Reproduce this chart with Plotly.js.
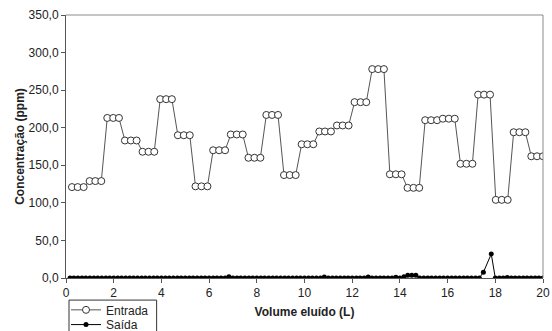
<!DOCTYPE html>
<html>
<head>
<meta charset="utf-8">
<script src="https://cdn.plot.ly/plotly-3.0.1.min.js"></script>
<style>html,body{margin:0;padding:0;background:#fff;}#chart{width:552px;height:331px;}</style>
</head>
<body>
<div id="chart"></div>
<script>
// Entrada (inlet) – 27 fractions of 3 points each
var entradaX = [0.25,0.49,0.74,0.99,1.23,1.48,1.73,1.98,2.22,2.47,2.72,2.96,3.21,3.46,3.70,3.95,4.20,4.44,4.69,4.94,5.19,5.43,5.68,5.93,6.17,6.42,6.67,6.91,7.16,7.41,7.65,7.90,8.15,8.40,8.64,8.89,9.14,9.38,9.63,9.88,10.12,10.37,10.62,10.86,11.11,11.36,11.60,11.85,12.10,12.35,12.59,12.84,13.09,13.33,13.58,13.83,14.07,14.32,14.57,14.81,15.06,15.31,15.56,15.80,16.05,16.30,16.54,16.79,17.04,17.28,17.53,17.78,18.02,18.27,18.52,18.77,19.01,19.26,19.51,19.75,20.00];
var entradaY = [121,121,121, 129,129,129, 213,213,213, 183,183,183, 168,168,168, 238,238,238, 190,190,190,
                122,122,122, 170,170,170, 191,191,191, 160,160,160, 217,217,217, 137,137,137, 178,178,178,
                195,195,195, 203,203,203, 234,234,234, 278,278,278, 138,138,138, 120,120,120, 210,210,210,
                212,212,212, 152,152,152, 244,244,244, 104,104,104, 194,194,194, 162,162,162];

// Saída (outlet)
var saidaX = [0.17,0.33,0.5,0.67,0.83,1,1.17,1.33,1.5,1.67,1.83,2,
              2.17,2.33,2.5,2.67,2.83,3,3.17,3.33,3.5,3.67,3.83,4,
              4.17,4.33,4.5,4.67,4.83,5,5.17,5.33,5.5,5.67,5.83,6,
              6.17,6.33,6.5,6.67,6.83,7,7.17,7.33,7.5,7.67,7.83,8,
              8.17,8.33,8.5,8.67,8.83,9,9.17,9.33,9.5,9.67,9.83,10,
              10.17,10.33,10.5,10.67,10.83,11,11.17,11.33,11.5,11.67,11.83,12,
              12.17,12.33,12.5,12.67,12.83,13,13.17,13.33,13.5,13.67,13.83,14,
              14.17,14.33,14.5,14.67,14.83,15,15.17,15.33,15.5,15.67,15.83,16,
              16.17,16.33,16.5,16.67,16.83,17,17.17,17.33,17.5,17.83,18,
              18.17,18.33,18.5,18.67,18.83,19,19.17,19.33,19.5,19.67,19.83,20];
var saidaY = [0,0,0,0,0,0,0,0,0,0,0,0,
              0,0,0,0,0,0,0,0,0,0,0,0,
              0,0,0,0,0,0,0,0,0,0,0,0,
              0,0,0,0,1.5,0,0,0,0,0,0,0,
              0,0,0,0,0,0,0,0,0,0,0,0,
              0,0,0,0,1.2,0,0,0,0,0,0,0,
              0,0,0,1.2,0,0,0,0,0,0,1.0,0,
              1.5,3.5,3.5,3.5,0,0,0,0,0,0,0,0,
              0,0,0,0,0,0,0,0,7.6,32,0,
              0,0,0.8,0,0,0,0,0,0,0,0,0];

var fontFam = 'Arial, "Liberation Sans", sans-serif';

var traces = [
  {x: entradaX, y: entradaY, name: 'Entrada', type: 'scatter', mode: 'lines+markers', legend: 'legend',
   line: {color: '#555555', width: 1},
   marker: {symbol: 'circle', size: 7, color: '#ffffff', line: {color: '#333333', width: 1}}},
  {x: saidaX, y: saidaY, name: 'Saída', type: 'scatter', mode: 'lines+markers', legend: 'legend2',
   line: {color: '#000000', width: 1},
   marker: {symbol: 'circle', size: 5, color: '#000000'}}
];

var legFont = {family: fontFam, size: 12, color: '#222222'};

var layout = {
  width: 552, height: 331,
  margin: {l: 66, r: 9, t: 15, b: 53, autoexpand: false},
  paper_bgcolor: '#ffffff', plot_bgcolor: '#ffffff',
  separators: ',.',
  font: {family: fontFam, size: 12, color: '#222222'},
  showlegend: true,
  legend: {x: 0, xanchor: 'left', y: -0.066, yanchor: 'top',
           borderwidth: 0, bgcolor: 'rgba(0,0,0,0)', font: legFont, itemwidth: 30},
  legend2: {x: 0, xanchor: 'left', y: -0.122, yanchor: 'top',
           borderwidth: 0, bgcolor: 'rgba(0,0,0,0)', font: legFont, itemwidth: 30},
  xaxis: {range: [0, 20], dtick: 2, tick0: 0, showgrid: false, zeroline: false,
          showline: true, linecolor: '#555555', linewidth: 1, mirror: false,
          ticks: 'outside', ticklen: 4, tickcolor: '#555555',
          tickfont: {family: fontFam, size: 12, color: '#222222'},
          title: {text: '<b>Volume eluído (L)</b>', font: {family: fontFam, size: 12, color: '#222222'}, standoff: 8}},
  yaxis: {range: [0, 350], dtick: 50, tick0: 0, tickformat: '.1f', showgrid: false, zeroline: false,
          showline: true, linecolor: '#555555', linewidth: 1,
          ticks: 'outside', ticklen: 4, tickcolor: '#555555',
          tickfont: {family: fontFam, size: 12, color: '#222222'},
          title: {text: '<b>Concentração (ppm)</b>', font: {family: fontFam, size: 12, color: '#222222'}, standoff: 1}},
  shapes: [
    {type: 'line', xref: 'paper', yref: 'paper', x0: 0, x1: 1, y0: 1, y1: 1, line: {color: '#8c8c8c', width: 1}},
    {type: 'line', xref: 'paper', yref: 'paper', x0: 1, x1: 1, y0: 0, y1: 1, line: {color: '#8c8c8c', width: 1}},
    // legend frame
    {type: 'rect', xref: 'paper', yref: 'paper', x0: 0.0063, x1: 0.19, y0: -0.084, y1: -0.30,
     line: {color: '#333333', width: 1}, fillcolor: 'rgba(0,0,0,0)'}
  ]
};

Plotly.newPlot('chart', traces, layout, {staticPlot: true, displayModeBar: false});
</script>
</body>
</html>
